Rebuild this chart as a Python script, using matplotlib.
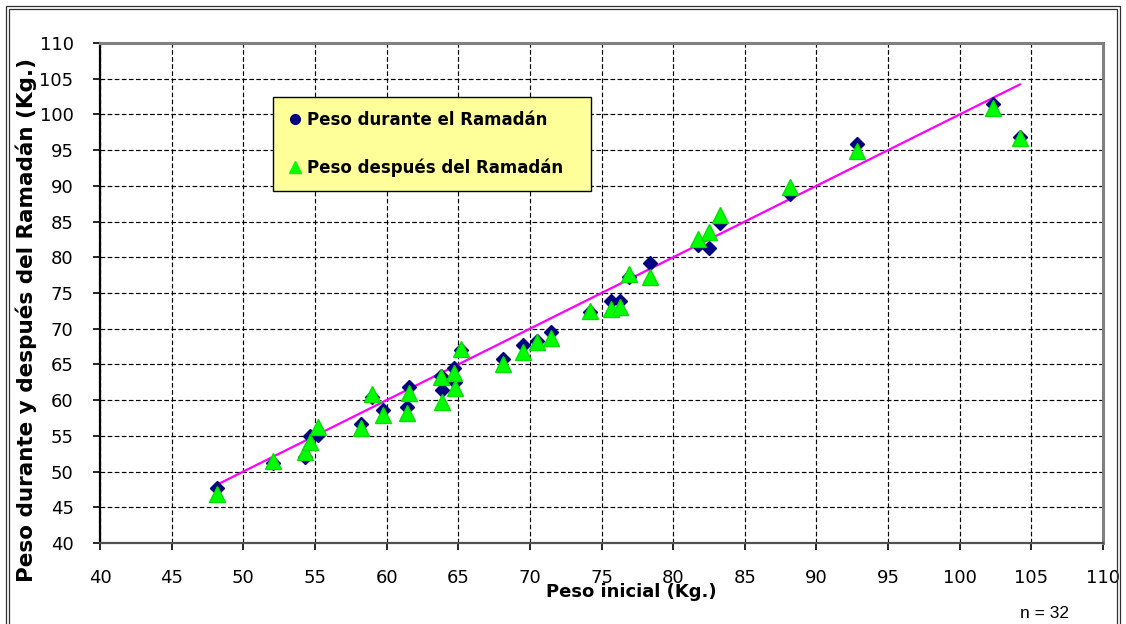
import matplotlib
matplotlib.use("Agg")
import matplotlib.pyplot as plt
from matplotlib.patches import Rectangle
from matplotlib.lines import Line2D
import numpy as np

plt.rcParams['font.family'] = ['DejaVu Sans']

# Initial weight of each subject (kg)
peso_inicial = [48.15, 52.1, 54.3, 54.65, 55.2, 58.25, 58.95, 59.75, 61.4, 61.6,
                63.8, 63.9, 64.7, 64.8, 65.2, 68.15, 69.5, 70.5, 71.5, 74.2,
                75.65, 76.3, 76.95, 78.4, 81.7, 82.5, 83.3, 88.15, 92.8, 102.3,
                104.2]
# Weight during Ramadan (kg)
peso_durante = [47.7, 51.2, 52.0, 55.0, 55.1, 56.6, 60.4, 58.6, 59.0, 61.8,
                63.4, 61.4, 64.5, 62.6, 67.0, 65.8, 67.7, 68.3, 69.6, 72.4,
                73.9, 73.9, 77.3, 79.2, 81.7, 81.3, 84.8, 88.8, 95.9, 101.4,
                96.9]
# Weight after Ramadan (kg)
peso_despues = [46.9, 51.5, 52.8, 54.2, 56.2, 56.1, 60.8, 57.9, 58.2, 61.0,
                63.3, 59.8, 63.8, 61.7, 67.2, 65.0, 66.8, 68.2, 68.7, 72.5,
                72.8, 73.0, 77.6, 77.2, 82.5, 83.6, 85.9, 89.8, 94.9, 100.9,
                96.7]

x_ticks = list(range(40, 111, 5))
y_ticks = list(range(40, 111, 5))
n_sujetos = 32

W, H = 1126, 624
fig = plt.figure(figsize=(W / 100, H / 100), dpi=100)
fig.patch.set_facecolor('white')

# double frame around the chart
for off in (6, 9):
    fig.patches.append(Rectangle((off / W, -0.05), (W - 2 * off) / W, 1.05 - off / H,
                                 transform=fig.transFigure, fill=False,
                                 edgecolor='#303030', linewidth=0.9))

ax = fig.add_axes([100 / W, 1 - 543 / H, (1103 - 100) / W, (543 - 43) / H])
ax.set_xlim(40, 110)
ax.set_ylim(40, 110)
ax.set_xticks(x_ticks)
ax.set_yticks(y_ticks)
ax.grid(True, color='black', linestyle=(0, (4, 2)), linewidth=0.85)
ax.set_axisbelow(True)

ax.spines['left'].set_color('black')
ax.spines['left'].set_linewidth(1.6)
ax.spines['bottom'].set_color('#505050')
ax.spines['bottom'].set_linewidth(1.6)
for s in ('top', 'right'):
    ax.spines[s].set_color('#808080')
    ax.spines[s].set_linewidth(2.2)

ax.tick_params(axis='both', direction='out', length=5, width=1.2, color='black',
               labelsize=13)
ax.tick_params(axis='x', pad=14)
ax.tick_params(axis='y', pad=14)

# line of no change (final weight equal to initial weight)
xs = np.array([min(peso_inicial), max(peso_inicial)])
ax.plot(xs, xs, color='#FF00FF', linewidth=1.6, zorder=2)

ax.plot(peso_inicial, peso_durante, linestyle='none', marker='D', markersize=7.5,
        color='#000080', zorder=3)
ax.plot(peso_inicial, peso_despues, linestyle='none', marker='^', markersize=11,
        color='#00FF00', markeredgecolor='#00E000', zorder=4)

handles = [
    Line2D([], [], linestyle='none', marker='o', markersize=7, color='#000080'),
    Line2D([], [], linestyle='none', marker='^', markersize=9, color='#00FF00'),
]
leg = ax.legend(handles, ['Peso durante el Ramadán', 'Peso después del Ramadán'],
                loc='upper left', bbox_to_anchor=(0.1725, 0.706, 0.317, 0.186),
                mode='expand',
                frameon=True, fancybox=False, facecolor='#FFFF99', edgecolor='black',
                framealpha=1, borderaxespad=0, borderpad=0.82, labelspacing=1.8,
                handlelength=1.0, handletextpad=0.2,
                prop={'weight': 'bold', 'size': 12})
leg.get_frame().set_linewidth(1.0)

ax.set_xlabel('Peso inicial (Kg.)', fontsize=13, fontweight='bold')
ax.xaxis.set_label_coords((631 - 100) / 1003, (543 - 583) / 500)
ax.set_ylabel('Peso durante y después del Ramadán (Kg.)', fontsize=15.5,
              fontweight='bold')
ax.yaxis.set_label_coords((37 - 100) / 1003, (543 - 320) / 500)

fig.text(1045 / W, 1 - 613 / H, f'n = {n_sujetos}', ha='center', va='center',
         fontsize=12.5, family='Liberation Sans')

fig.savefig('out.png', dpi=100)
